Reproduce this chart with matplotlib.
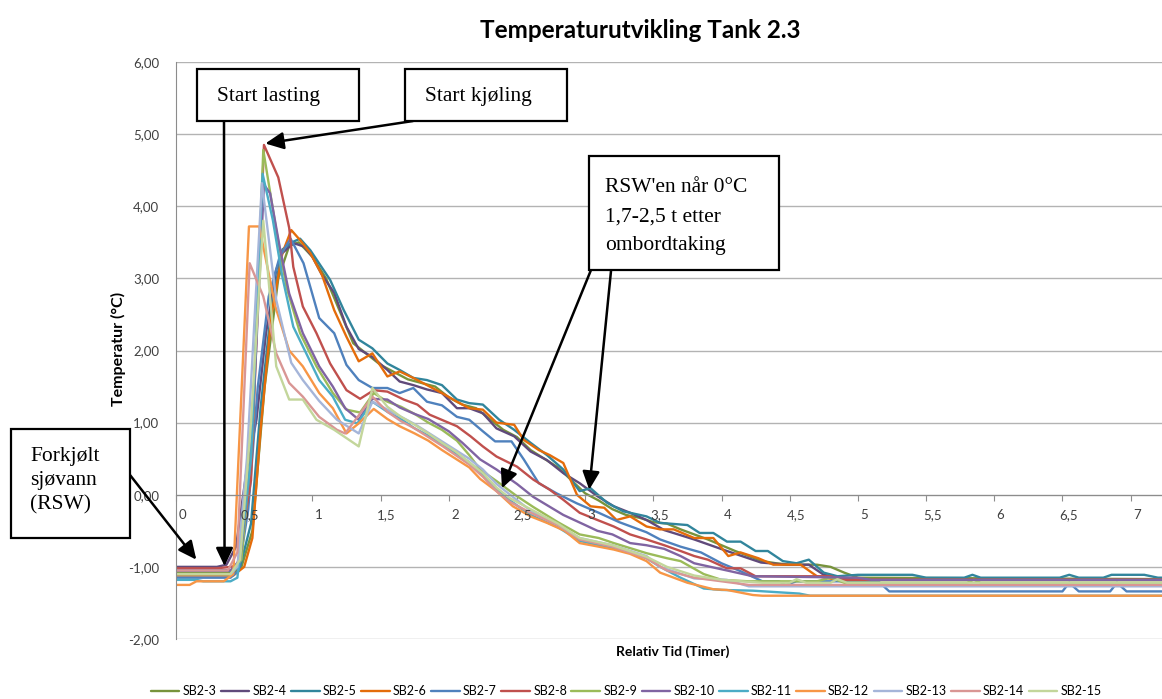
import matplotlib.pyplot as plt
from matplotlib.patches import Rectangle
from matplotlib import transforms

# (relativ tid [timer], temperatur [°C])
sb2_3 = [(0, -1.08), (0.42, -1.08), (0.48, -1.0), (0.56, -0.5), (0.65, 1.5), (0.75, 3.0), (0.83, 3.45),
         (0.9, 3.5), (1.0, 3.3), (1.1, 3.0), (1.2, 2.55), (1.3, 2.1), (1.4, 1.95), (1.5, 1.8), (1.6, 1.7),
         (1.7, 1.6), (1.8, 1.55), (1.9, 1.5), (2.0, 1.35), (2.1, 1.25), (2.2, 1.2), (2.3, 1.05), (2.4, 0.9),
         (2.5, 0.8), (2.6, 0.62), (2.7, 0.5), (2.8, 0.38), (2.9, 0.2), (3.0, 0.02), (3.1, -0.08), (3.2, -0.2),
         (3.3, -0.28), (3.4, -0.32), (3.5, -0.38), (3.6, -0.4), (3.7, -0.48), (3.8, -0.55), (3.9, -0.62),
         (4.0, -0.7), (4.1, -0.78), (4.2, -0.85), (4.3, -0.92), (4.4, -0.95), (4.5, -0.97), (4.6, -0.97),
         (4.7, -0.97), (4.8, -1.0), (4.9, -1.08), (5.0, -1.15), (7.25, -1.17)]
sb2_4 = [(0, -1.0), (0.3, -1.0), (0.37, -0.97), (0.44, -0.72), (0.515, 0.3), (0.59, 1.04), (0.66, 2.24),
         (0.735, 3.12), (0.78, 3.35), (0.86, 3.49), (0.94, 3.44), (1.0, 3.3), (1.07, 3.05), (1.16, 2.8),
         (1.25, 2.33), (1.34, 2.02), (1.44, 1.91), (1.55, 1.73), (1.64, 1.57), (1.74, 1.52), (1.84, 1.46),
         (1.95, 1.41), (2.06, 1.2), (2.15, 1.2), (2.25, 1.13), (2.35, 0.92), (2.48, 0.81), (2.6, 0.6),
         (2.72, 0.48), (2.84, 0.3), (2.96, 0.16), (3.09, -0.02), (3.21, -0.16), (3.33, -0.25), (3.45, -0.35),
         (3.58, -0.49), (3.8, -0.62), (4.04, -0.78), (4.29, -0.94), (4.48, -0.97), (4.64, -0.97),
         (4.75, -1.11), (4.87, -1.15), (5.0, -1.18), (7.25, -1.18)]
sb2_5 = [(0, -1.05), (0.4, -1.05), (0.47, -1.0), (0.55, -0.4), (0.62, 1.2), (0.7, 2.6), (0.78, 3.4),
         (0.85, 3.5), (0.91, 3.55), (0.985, 3.39), (1.13, 2.98), (1.23, 2.56), (1.34, 2.15), (1.44, 2.03),
         (1.55, 1.82), (1.64, 1.73), (1.74, 1.62), (1.84, 1.59), (1.95, 1.52), (2.06, 1.32), (2.15, 1.27),
         (2.25, 1.25), (2.37, 1.04), (2.48, 0.9), (2.6, 0.72), (2.72, 0.55), (2.84, 0.35), (2.96, 0.05),
         (3.04, 0.09), (3.16, -0.11), (3.28, -0.23), (3.45, -0.3), (3.55, -0.39), (3.75, -0.42),
         (3.84, -0.53), (3.94, -0.53), (4.04, -0.65), (4.14, -0.65), (4.25, -0.78), (4.34, -0.78),
         (4.45, -0.92), (4.55, -0.95), (4.64, -0.9), (4.75, -1.08), (4.85, -1.13), (5.0, -1.11),
         (5.4, -1.11), (5.5, -1.15), (5.78, -1.15), (5.84, -1.11), (5.9, -1.15), (6.48, -1.15),
         (6.55, -1.11), (6.62, -1.15), (6.8, -1.15), (6.86, -1.11), (7.1, -1.11), (7.2, -1.15), (7.25, -1.15)]
sb2_6 = [(0, -1.12), (0.42, -1.12), (0.5, -1.0), (0.56, -0.6), (0.62, 0.9), (0.7, 2.5), (0.78, 3.35),
         (0.845, 3.67), (0.91, 3.53), (0.985, 3.35), (1.07, 3.05), (1.16, 2.56), (1.25, 2.19), (1.34, 1.85),
         (1.44, 1.96), (1.55, 1.64), (1.64, 1.71), (1.74, 1.62), (1.84, 1.52), (1.95, 1.41), (2.06, 1.29),
         (2.15, 1.2), (2.25, 1.18), (2.35, 1.0), (2.48, 0.97), (2.55, 0.76), (2.66, 0.62), (2.74, 0.55),
         (2.84, 0.44), (2.94, 0.0), (3.04, -0.16), (3.14, -0.18), (3.23, -0.35), (3.33, -0.3), (3.45, -0.44),
         (3.55, -0.48), (3.65, -0.48), (3.8, -0.6), (3.94, -0.6), (4.05, -0.85), (4.14, -0.8), (4.27, -0.88),
         (4.38, -0.97), (4.58, -0.97), (4.7, -1.13), (4.85, -1.18), (7.25, -1.18)]
sb2_7 = [(0, -1.15), (0.4, -1.15), (0.46, -1.05), (0.53, -0.2), (0.6, 1.5), (0.68, 2.75), (0.76, 3.3),
         (0.84, 3.55), (0.935, 3.21), (1.05, 2.45), (1.16, 2.24), (1.25, 1.8), (1.34, 1.59), (1.44, 1.48),
         (1.55, 1.48), (1.64, 1.41), (1.74, 1.48), (1.84, 1.29), (1.95, 1.24), (2.06, 1.08), (2.15, 1.04),
         (2.25, 0.88), (2.34, 0.74), (2.46, 0.74), (2.55, 0.49), (2.66, 0.16), (2.79, 0.02), (2.94, -0.12),
         (3.1, -0.25), (3.25, -0.38), (3.45, -0.52), (3.55, -0.62), (3.7, -0.72), (3.85, -0.8), (4.0, -0.95),
         (4.14, -1.06), (4.3, -1.2), (4.42, -1.2), (4.47, -1.25), (4.55, -1.2), (5.15, -1.2), (5.23, -1.34),
         (6.5, -1.34), (6.55, -1.22), (6.62, -1.34), (6.85, -1.34), (6.9, -1.22), (6.97, -1.34), (7.25, -1.34)]
sb2_8 = [(0, -1.02), (0.3, -1.02), (0.4, -1.0), (0.45, -0.98), (0.55, 0.2), (0.645, 4.85), (0.75, 4.4),
         (0.83, 3.7), (0.86, 3.16), (0.93, 2.61), (1.03, 2.24), (1.13, 1.82), (1.25, 1.45), (1.35, 1.33),
         (1.45, 1.45), (1.55, 1.43), (1.67, 1.32), (1.77, 1.25), (1.86, 1.11), (1.96, 1.03), (2.06, 0.95),
         (2.16, 0.81), (2.25, 0.67), (2.35, 0.53), (2.5, 0.39), (2.62, 0.21), (2.74, 0.07), (2.84, -0.07),
         (2.96, -0.25), (3.09, -0.35), (3.21, -0.44), (3.33, -0.55), (3.45, -0.62), (3.58, -0.7),
         (3.7, -0.78), (3.8, -0.85), (3.9, -0.9), (4.04, -1.02), (4.14, -1.02), (4.25, -1.13), (4.8, -1.13),
         (4.9, -1.18), (7.25, -1.18)]
sb2_9 = [(0, -1.1), (0.4, -1.1), (0.48, -0.9), (0.56, 0.8), (0.64, 4.78), (0.735, 3.67), (0.81, 2.88),
         (0.91, 2.24), (1.03, 1.78), (1.15, 1.41), (1.25, 1.18), (1.35, 1.14), (1.45, 1.41), (1.55, 1.29),
         (1.65, 1.22), (1.75, 1.12), (1.85, 1.0), (1.95, 0.9), (2.06, 0.75), (2.15, 0.55), (2.23, 0.35),
         (2.35, 0.19), (2.5, -0.02), (2.62, -0.17), (2.8, -0.38), (2.96, -0.55), (3.1, -0.6), (3.21, -0.67),
         (3.45, -0.81), (3.6, -0.88), (3.7, -0.92), (3.87, -1.1), (4.0, -1.18), (4.2, -1.2), (4.7, -1.2),
         (4.8, -1.15), (4.9, -1.22), (5.8, -1.22), (5.85, -1.18), (5.9, -1.22), (7.25, -1.22)]
sb2_10 = [(0, -1.05), (0.4, -1.05), (0.47, -0.9), (0.55, 0.5), (0.645, 4.3), (0.69, 4.18), (0.76, 3.44),
          (0.83, 2.79), (0.93, 2.24), (1.05, 1.78), (1.15, 1.5), (1.24, 1.2), (1.34, 1.04), (1.44, 1.33),
          (1.55, 1.32), (1.64, 1.21), (1.75, 1.12), (1.85, 1.05), (2.0, 0.88), (2.1, 0.72), (2.23, 0.49),
          (2.35, 0.35), (2.5, 0.15), (2.62, -0.03), (2.84, -0.28), (3.0, -0.42), (3.09, -0.5), (3.2, -0.55),
          (3.33, -0.67), (3.45, -0.7), (3.58, -0.75), (3.7, -0.85), (3.8, -0.95), (4.04, -1.05),
          (4.23, -1.13), (5.0, -1.15), (5.1, -1.18), (7.25, -1.18)]
sb2_11 = [(0, -1.18), (0.15, -1.18), (0.2, -1.2), (0.4, -1.2), (0.45, -1.15), (0.55, 0.5), (0.635, 4.45),
          (0.71, 3.81), (0.78, 3.02), (0.86, 2.33), (0.955, 1.96), (1.05, 1.59), (1.15, 1.36), (1.24, 1.04),
          (1.33, 0.99), (1.44, 1.29), (1.55, 1.15), (1.65, 1.05), (1.75, 0.92), (1.85, 0.82), (1.95, 0.7),
          (2.05, 0.58), (2.15, 0.45), (2.25, 0.28), (2.35, 0.07), (2.45, -0.08), (2.6, -0.28), (2.8, -0.45),
          (2.96, -0.64), (3.1, -0.7), (3.3, -0.78), (3.45, -0.88), (3.55, -1.0), (3.7, -1.15), (3.87, -1.3),
          (4.0, -1.32), (4.23, -1.33), (4.57, -1.37), (4.65, -1.4), (7.25, -1.4)]
sb2_12 = [(0, -1.25), (0.1, -1.25), (0.15, -1.2), (0.35, -1.2), (0.42, -1.1), (0.535, 3.72), (0.61, 3.72),
          (0.73, 2.6), (0.83, 2.0), (0.93, 1.78), (1.05, 1.41), (1.15, 1.2), (1.25, 0.85), (1.34, 0.99),
          (1.45, 1.19), (1.55, 1.05), (1.64, 0.95), (1.75, 0.85), (1.85, 0.75), (1.95, 0.62), (2.05, 0.5),
          (2.15, 0.38), (2.23, 0.22), (2.35, 0.05), (2.47, -0.16), (2.6, -0.3), (2.72, -0.39), (2.85, -0.5),
          (2.96, -0.67), (3.1, -0.72), (3.21, -0.76), (3.33, -0.82), (3.45, -0.92), (3.55, -1.08),
          (3.75, -1.22), (3.94, -1.31), (4.04, -1.32), (4.23, -1.39), (4.3, -1.4), (7.25, -1.4)]
sb2_13 = [(0, -1.1), (0.4, -1.1), (0.45, -1.0), (0.52, 0.5), (0.63, 4.32), (0.735, 2.7), (0.845, 1.83),
          (0.93, 1.59), (1.05, 1.3), (1.18, 1.04), (1.34, 0.85), (1.44, 1.29), (1.55, 1.18), (1.65, 1.08),
          (1.75, 0.98), (1.85, 0.86), (1.95, 0.74), (2.05, 0.62), (2.15, 0.5), (2.25, 0.35), (2.35, 0.15),
          (2.45, 0.0), (2.6, -0.22), (2.8, -0.42), (2.96, -0.6), (3.2, -0.7), (3.45, -0.85), (3.55, -1.0),
          (3.8, -1.16), (4.04, -1.18), (4.2, -1.27), (7.25, -1.27)]
sb2_14 = [(0, -1.05), (0.38, -1.05), (0.45, -0.8), (0.54, 3.21), (0.64, 2.75), (0.735, 1.96), (0.83, 1.55),
          (0.93, 1.36), (1.05, 1.08), (1.18, 0.9), (1.24, 0.85), (1.34, 1.1), (1.44, 1.36), (1.55, 1.15),
          (1.65, 1.02), (1.75, 0.92), (1.85, 0.8), (1.95, 0.68), (2.05, 0.55), (2.15, 0.42), (2.25, 0.25),
          (2.35, 0.05), (2.45, -0.1), (2.6, -0.25), (2.8, -0.42), (2.96, -0.62), (3.2, -0.72), (3.45, -0.88),
          (3.6, -1.05), (3.8, -1.15), (4.0, -1.2), (4.2, -1.25), (7.25, -1.25)]
sb2_15 = [(0, -1.1), (0.4, -1.1), (0.47, -0.9), (0.55, 1.0), (0.64, 3.8), (0.735, 1.78), (0.83, 1.32),
          (0.93, 1.32), (1.03, 1.04), (1.16, 0.9), (1.34, 0.67), (1.44, 1.48), (1.55, 1.22), (1.65, 1.08),
          (1.75, 0.97), (1.85, 0.85), (1.95, 0.72), (2.05, 0.6), (2.15, 0.45), (2.25, 0.3), (2.35, 0.1),
          (2.45, -0.05), (2.6, -0.2), (2.8, -0.4), (2.96, -0.6), (3.2, -0.7), (3.45, -0.86), (3.6, -1.0),
          (3.8, -1.12), (4.0, -1.18), (4.3, -1.22), (4.5, -1.22), (4.55, -1.17), (4.62, -1.22), (4.8, -1.22),
          (4.85, -1.17), (4.92, -1.22), (7.25, -1.22)]

series_names = ["SB2-3", "SB2-4", "SB2-5", "SB2-6", "SB2-7", "SB2-8", "SB2-9",
                "SB2-10", "SB2-11", "SB2-12", "SB2-13", "SB2-14", "SB2-15"]
series_data = [sb2_3, sb2_4, sb2_5, sb2_6, sb2_7, sb2_8, sb2_9,
               sb2_10, sb2_11, sb2_12, sb2_13, sb2_14, sb2_15]
series_colors = ["#77933C", "#604A7B", "#31859C", "#E46C0A", "#4F81BD", "#C0504D", "#9BBB59",
                 "#8064A2", "#4BACC6", "#F79646", "#A5B5D9", "#D99694", "#C3D69B"]

y_ticks = [-2, -1, 0, 1, 2, 3, 4, 5, 6]
x_ticks = [0, 0.5, 1, 1.5, 2, 2.5, 3, 3.5, 4, 4.5, 5, 5.5, 6, 6.5, 7]

W, H = 1162, 699
UI = "Lato"
SERIF = "Liberation Serif"


def fx(px):
    return px / W


def fy(py):
    return 1 - py / H


fig = plt.figure(figsize=(W / 100, H / 100), dpi=100)
ax = fig.add_axes([fx(176), fy(639), (W - 176) / W, (639 - 62) / H])

for name, pts, col in zip(series_names, series_data, series_colors):
    t, v = zip(*pts)
    ax.plot(t, v, color=col, lw=1.7, label=name,
            solid_joinstyle="round", solid_capstyle="round")

ax.set_xlim(0, 7.23)
ax.set_ylim(-2, 6)

# axes look like excel: y axis at left, x axis crossing at 0
for s in ["top", "right"]:
    ax.spines[s].set_visible(False)
ax.spines["left"].set_color("#8C8C8C")
ax.spines["bottom"].set_position(("data", 0))
ax.spines["bottom"].set_color("#8C8C8C")

ax.set_yticks(y_ticks)
ax.set_yticklabels([f"{v:.2f}".replace(".", ",") for v in y_ticks],
                   fontsize=9.5, family=UI, color="#404040")
ax.tick_params(axis="y", length=0, pad=12)
ax.yaxis.grid(True, color="#B3B3B3", lw=1.0)
ax.set_axisbelow(True)

ax.set_xticks(x_ticks)
ax.tick_params(axis="x", length=4, color="#8C8C8C", labelbottom=False)
off = transforms.ScaledTranslation(0.06, -0.14, fig.dpi_scale_trans)
for xt in x_ticks:
    ax.text(xt, 0, ("%g" % xt).replace(".", ","), transform=ax.transData + off,
            ha="center", va="top", fontsize=9.5, family=UI, color="#404040")

fig.text(fx(640), fy(30), "Temperaturutvikling Tank 2.3", ha="center", va="center",
         fontsize=17.5, fontweight="bold", family=UI)
fig.text(fx(118), fy(349), "Temperatur (°C)", rotation=90, ha="center", va="center",
         fontsize=11.5, fontweight="bold", family=UI)
fig.text(fx(673), fy(652), "Relativ Tid (Timer)", ha="center", va="center",
         fontsize=10, fontweight="bold", family=UI)

fig.legend(loc="center", bbox_to_anchor=(fx(626), fy(691)), ncol=13, frameon=False,
           prop={"family": UI, "size": 9}, handlelength=2.3, handletextpad=0.25,
           columnspacing=0.35, borderaxespad=0)


# callout boxes (pixel coords, top-left origin)
def box(x0, y0, x1, y1):
    fig.add_artist(Rectangle((fx(x0), fy(y1)), (x1 - x0) / W, (y1 - y0) / H,
                             transform=fig.transFigure, facecolor="white",
                             edgecolor="black", lw=1.6, zorder=10))


def note(x, y, s):
    fig.text(fx(x), fy(y), s, ha="left", va="center", fontsize=15.5,
             family=SERIF, zorder=11)


def arrow(px, py, t, temp):
    ax.annotate("", xy=(t, temp), xycoords="data",
                xytext=(fx(px), fy(py)), textcoords="figure fraction",
                arrowprops=dict(arrowstyle="-|>,head_length=0.55,head_width=0.26",
                                mutation_scale=20, color="black", lw=1.8,
                                shrinkA=0, shrinkB=0),
                annotation_clip=False, zorder=12)


box(197, 69, 359, 121)
note(217, 96, "Start lasting")
arrow(224, 121, 0.356, -0.99)

box(405, 69, 567, 121)
note(425, 96, "Start kjøling")
arrow(413, 121, 0.655, 4.87)

box(589, 156, 779, 270)
for yy, line in zip([188, 217, 245], ["RSW'en når 0°C", "1,7-2,5 t etter", "ombordtaking"]):
    note(605, yy, line)
arrow(591, 270, 2.39, 0.09)
arrow(611, 271, 3.03, 0.07)

box(11, 429, 130, 538)
for yy, line in zip([457, 481, 505], ["Forkjølt", "sjøvann", "(RSW)"]):
    note(30, yy, line)
arrow(130, 475, 0.149, -0.9)

fig.savefig("out.png", dpi=100)
